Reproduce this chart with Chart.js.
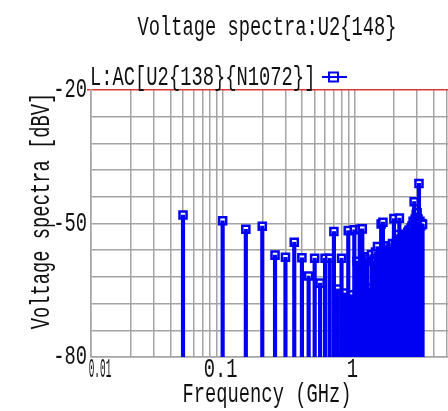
<!DOCTYPE html>
<html>
<head>
<meta charset="utf-8">
<script src="https://cdn.jsdelivr.net/npm/chart.js@4.4.1/dist/chart.umd.min.js"></script>
<style>
  html, body { margin: 0; padding: 0; background: #fff; }
  #wrap { width: 448px; height: 411px; }
</style>
</head>
<body>
<div id="wrap"><canvas id="myChart" width="448" height="411"></canvas></div>
<script>
// harmonic frequencies (GHz) and levels (dBV)
const freqGHz = [
  0.05, 0.10, 0.15, 0.20, 0.25, 0.30, 0.35, 0.40, 0.45, 0.50,
  0.55, 0.60, 0.65, 0.70, 0.75, 0.80, 0.85, 0.90, 0.95, 1.00,
  1.05, 1.10, 1.15, 1.20, 1.25, 1.30, 1.35, 1.40, 1.45, 1.50,
  1.55, 1.60, 1.65, 1.70, 1.75, 1.80, 1.85, 1.90, 1.95, 2.00,
  2.05, 2.10, 2.15, 2.20, 2.25, 2.30, 2.35, 2.40, 2.45, 2.50,
  2.55, 2.60, 2.65, 2.70, 2.75, 2.80, 2.85, 2.90, 2.95, 3.00,
  3.05, 3.10, 3.15, 3.20, 3.25, 3.30
];
const levelDbv = [
  -48.1, -49.4, -51.3, -50.6, -57.1, -57.6, -54.2, -57.7, -61.8, -57.8,
  -63.4, -57.8, -57.8, -51.8, -64.7, -57.8, -65.6, -51.6, -66.0, -51.4,
  -58.5, -51.3, -51.2, -57.5, -58.0, -64.5, -57.0, -58.5, -56.4, -55.2,
  -57.5, -50.1, -49.7, -55.5, -56.0, -55.0, -56.0, -55.0, -54.5, -48.9,
  -55.0, -54.0, -52.5, -48.8, -54.0, -53.5, -53.0, -54.0, -52.5, -52.5,
  -52.0, -51.5, -51.5, -51.0, -50.5, -49.5, -45.1, -49.0, -48.0, -47.6,
  -49.0, -41.0, -49.5, -50.5, -50.0, -50.2
];

const xTicks = [
  0.01, 0.02, 0.03, 0.04, 0.05, 0.06, 0.07, 0.08, 0.09,
  0.1, 0.2, 0.3, 0.4, 0.5, 0.6, 0.7, 0.8, 0.9,
  1, 2, 3, 4, 5
];
const xLabels = { 0.01: '0.01', 0.1: '0.1', 1: '1' };
const yTicks = [-80, -74, -68, -62, -56, -50, -44, -38, -32, -26, -20];
const yLabels = [-80, -50, -20];

const titleText = 'Voltage spectra:U2{148}';
const legendText = 'L:AC[U2{138}{N1072}]';
const xTitle = 'Frequency (GHz)';
const yTitle = 'Voltage spectra [dBV]';

const blue = '#0000f2';
const gridGray = '#a4a4a4';
const limitRed = '#d83a3a';
const fontName = '"Liberation Mono", "DejaVu Sans Mono", monospace';

// tall, narrow text like the original plot font
function tallText(ctx, str, x, y, align, sx) {
  ctx.save();
  ctx.translate(x, y);
  ctx.scale(sx || 1, 1.5);
  ctx.textAlign = align;
  ctx.textBaseline = 'alphabetic';
  ctx.fillText(str, 0, 0);
  ctx.restore();
}

const textPlugin = {
  id: 'plotText',
  afterDraw(chart) {
    const ctx = chart.ctx;
    const xs = chart.scales.x;
    const ys = chart.scales.y;
    ctx.save();
    ctx.fillStyle = '#111';
    ctx.font = '18.8px ' + fontName;

    tallText(ctx, titleText, 267, 35, 'center');
    tallText(ctx, legendText, 90, 85, 'left');
    tallText(ctx, xTitle, 267, 402, 'center');

    yLabels.forEach(v => {
      tallText(ctx, String(v), 87, ys.getPixelForValue(v) + 7, 'right');
    });
    xTicks.forEach(v => {
      const lab = xLabels[v];
      if (!lab) return;
      const px = xs.getPixelForValue(v);
      if (lab === '0.01') {
        tallText(ctx, lab, px + 9, 377, 'center', 0.5);
      } else {
        tallText(ctx, lab, px - 2, 377, 'center');
      }
    });

    // rotated y title
    ctx.save();
    ctx.translate(48.5, 211);
    ctx.rotate(-Math.PI / 2);
    ctx.scale(1, 1.5);
    ctx.textAlign = 'center';
    ctx.textBaseline = 'alphabetic';
    ctx.fillText(yTitle, 0, 0);
    ctx.restore();

    // legend symbol: line through a square
    ctx.strokeStyle = blue;
    ctx.lineWidth = 2;
    ctx.beginPath();
    ctx.moveTo(322, 77);
    ctx.lineTo(347, 77);
    ctx.stroke();
    ctx.strokeRect(329, 72.5, 9, 9);
    ctx.restore();
  }
};

const ctx = document.getElementById('myChart').getContext('2d');
const stemData = freqGHz.map((f, i) => ({ x: f, y: [-80, levelDbv[i]] }));
const markData = freqGHz.map((f, i) => ({ x: f, y: levelDbv[i] }));

new Chart(ctx, {
  type: 'bar',
  data: {
    datasets: [
      {
        type: 'bar',
        data: stemData,
        backgroundColor: blue,
        borderWidth: 0,
        barThickness: 3.5,
        order: 0
      },
      {
        type: 'scatter',
        data: markData,
        pointStyle: 'rect',
        radius: 5,
        borderWidth: 2.5,
        borderColor: blue,
        backgroundColor: '#ffffff',
        order: 1
      }
    ]
  },
  options: {
    responsive: false,
    animation: false,
    events: [],
    layout: { autoPadding: false, padding: { top: 90, left: 0, right: 0, bottom: 0 } },
    plugins: {
      legend: { display: false },
      title: { display: false },
      tooltip: { enabled: false }
    },
    scales: {
      x: {
        type: 'logarithmic',
        min: 0.01,
        max: 5.15,
        offset: false,
        afterBuildTicks: s => { s.ticks = xTicks.map(v => ({ value: v })); },
        afterFit: s => { s.height = 54; },
        ticks: { display: false },
        grid: { color: gridGray, lineWidth: 1.5, drawTicks: false, offset: false },
        border: { color: gridGray, width: 1.5 }
      },
      y: {
        min: -80,
        max: -20,
        afterBuildTicks: s => { s.ticks = yTicks.map(v => ({ value: v })); },
        afterFit: s => { s.width = 91; },
        ticks: { display: false },
        grid: {
          color: c => (c.tick && c.tick.value === -20) ? limitRed : gridGray,
          lineWidth: 1.5,
          drawTicks: true,
          tickLength: 4,
          tickColor: c => (c.tick && c.tick.value === -20) ? limitRed : 'rgba(0,0,0,0)'
        },
        border: { color: gridGray, width: 1.5 }
      }
    }
  },
  plugins: [textPlugin]
});
</script>
</body>
</html>
